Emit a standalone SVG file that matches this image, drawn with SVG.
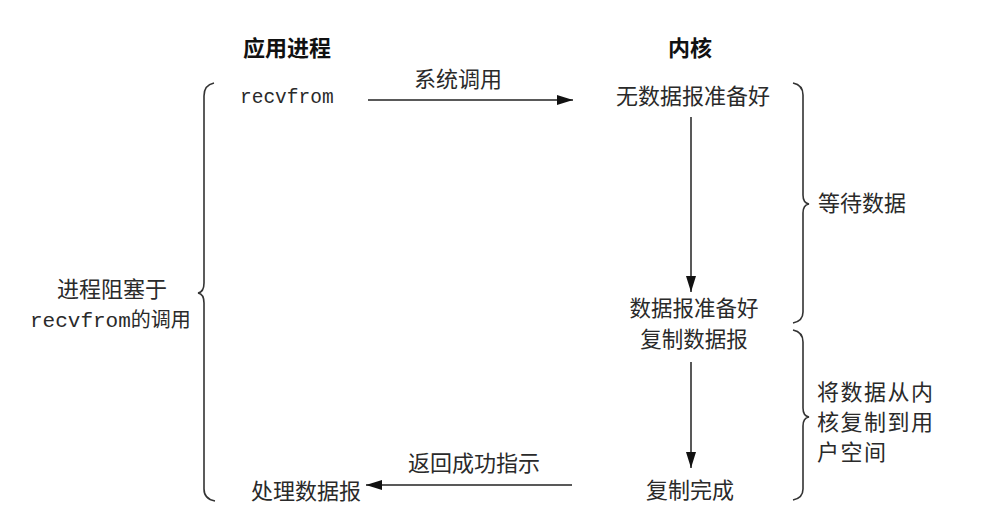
<svg xmlns="http://www.w3.org/2000/svg" width="1002" height="523" viewBox="0 0 1002 523">
<style>
.cjk{font-family:"Noto Sans CJK SC","Noto Sans",sans-serif;fill:#2a2a2a;font-size:22px}
.hd{font-family:"Noto Sans CJK SC","Noto Sans",sans-serif;fill:#111;font-size:22px;font-weight:bold}
.mono{font-family:"Liberation Mono","DejaVu Sans Mono",monospace;fill:#2a2a2a;font-size:19.5px}
.ln{stroke:#222;stroke-width:1.5;fill:none}
.br{stroke:#333;stroke-width:1.6;fill:none}
</style>
<defs>
<marker id="ah" markerWidth="16" markerHeight="10" refX="16" refY="5" orient="auto" markerUnits="userSpaceOnUse">
<path d="M0,0 L16,5 L0,10 Z" fill="#111"/>
</marker>
</defs>
<rect width="1002" height="523" fill="#fff"/>
<g id="headers">
<text class="hd" x="287" y="56" text-anchor="middle">应用进程</text>
<text class="hd" x="690" y="56" text-anchor="middle">内核</text>
</g>
<g id="recvfrom"><text class="mono" x="240" y="103">recvfrom</text></g>
<g id="no-data"><text class="cjk" x="693" y="104" text-anchor="middle">无数据报准备好</text></g>
<g id="data-ready"><text class="cjk" x="694" y="316" text-anchor="middle" style="font-size:21.5px">数据报准备好</text><text class="cjk" x="694" y="347" text-anchor="middle" style="font-size:21.5px">复制数据报</text></g>
<g id="copy-done"><text class="cjk" x="690" y="498" text-anchor="middle">复制完成</text></g>
<g id="process"><text class="cjk" x="306" y="499" text-anchor="middle">处理数据报</text></g>
<g id="blocked">
<text class="cjk" x="112" y="297" text-anchor="middle">进程阻塞于</text>
<text x="30" y="327"><tspan class="mono" style="font-size:21px">recvfrom</tspan><tspan class="cjk" style="font-size:20px">的调用</tspan></text>
</g>
<g id="wait-data"><text class="cjk" x="818" y="211">等待数据</text></g>
<g id="copy-data">
<text class="cjk" x="817" y="400" letter-spacing="1.5">将数据从内</text>
<text class="cjk" x="817" y="430" letter-spacing="1.5">核复制到用</text>
<text class="cjk" x="817" y="460" letter-spacing="1.5">户空间</text>
</g>
<g id="connectors">
<line class="ln" x1="368" y1="100" x2="573" y2="100" marker-end="url(#ah)"/>
<text class="cjk" x="458" y="87" text-anchor="middle">系统调用</text>
<line class="ln" x1="691" y1="117" x2="691" y2="292" marker-end="url(#ah)"/>
<line class="ln" x1="691" y1="362" x2="691" y2="468" marker-end="url(#ah)"/>
<line class="ln" x1="572" y1="485" x2="366" y2="485" marker-end="url(#ah)"/>
<text class="cjk" x="474" y="471" text-anchor="middle">返回成功指示</text>
</g>
<g id="braces">
<path class="br" d="M214,83 Q204,85 204,96 L204,283 Q204,292 198,293 Q204,294 204,303 L204,489 Q204,499 215,501"/>
<path class="br" d="M793,83 Q803,85 803,95 L803,195 Q803,203 809,204 Q803,205 803,213 L803,312 Q803,321 793,323"/>
<path class="br" d="M793,330 Q803,332 803,342 L803,408 Q803,416 809,417 Q803,418 803,426 L803,489 Q803,498 793,500"/>
</g>
</svg>
